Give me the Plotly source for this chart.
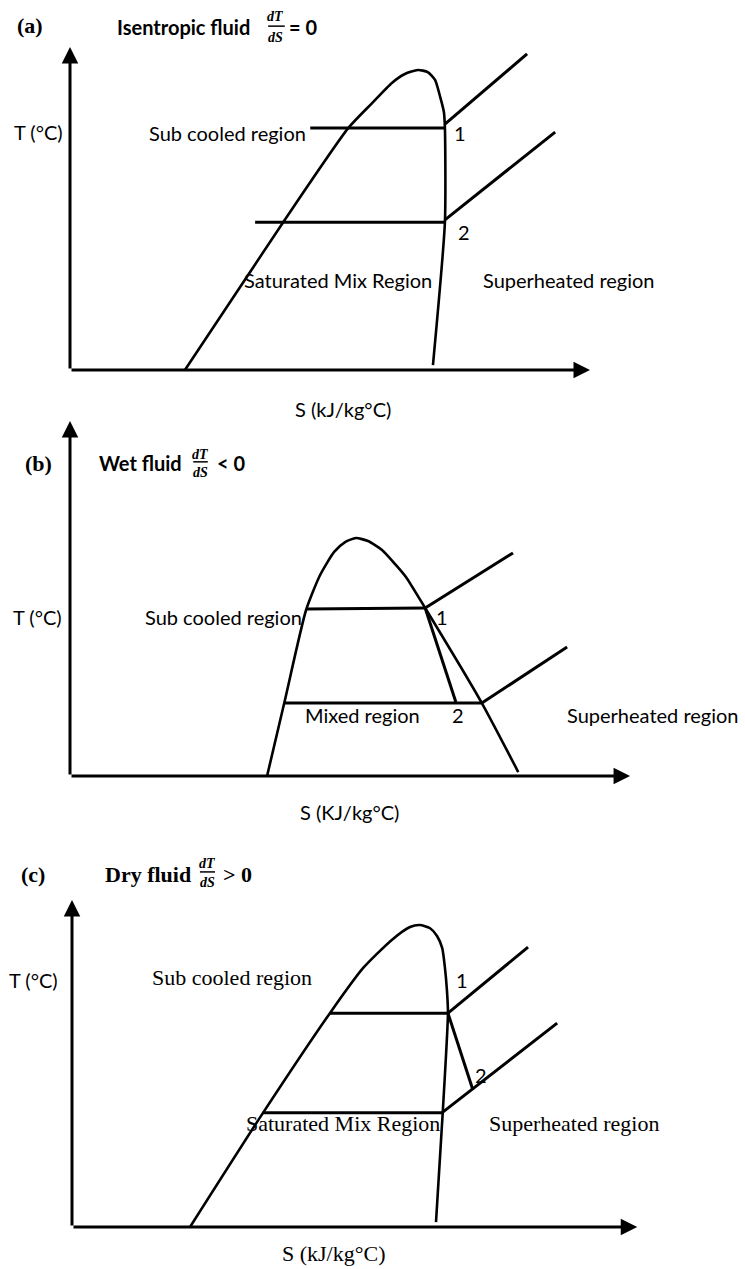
import plotly.graph_objects as go

# ---------------- data (schematic units: S along x, T along y) ----------------
# Panel (a): isentropic fluid
a_dome_s = [22.1, 41.0, 53.5, 58.1, 61.9, 64.4, 66.9, 68.8, 70.2, 71.2, 71.9, 72.1, 72.1, 69.8]
a_dome_t = [0.0, 44.8, 73.3, 80.9, 87.0, 89.7, 90.9, 90.3, 87.9, 82.7, 78.2, 73.3, 44.8, 1.5]
a_sat1_s, a_sat1_t = [46.2, 72.1], [73.3, 73.3]
a_sat2_s, a_sat2_t = [35.6, 72.1], [44.8, 44.8]
a_sh1_s, a_sh1_t = [72.1, 87.9], [74.5, 95.8]
a_sh2_s, a_sh2_t = [72.1, 93.3], [45.5, 72.1]
a_axis_tip = (100.0, 97.9)

# Panel (b): wet fluid
b_dome_s = [37.9, 41.2, 45.4, 48.1, 50.8, 52.9, 55.0, 57.3, 60.0, 62.7, 64.6, 68.3, 79.2, 86.2]
b_dome_t = [0.0, 22.1, 50.3, 60.9, 67.9, 70.9, 72.1, 71.2, 68.5, 63.9, 60.3, 50.9, 22.1, 1.2]
b_sat1_s, b_sat1_t = [45.4, 68.3], [50.6, 50.9]
b_sat2_s, b_sat2_t = [41.2, 79.2], [22.1, 22.1]
b_exp_s, b_exp_t = [68.3, 74.2], [50.9, 22.4]
b_sh1_s, b_sh1_t = [68.3, 85.2], [50.9, 67.6]
b_sh2_s, b_sh2_t = [79.2, 95.6], [22.1, 39.1]
b_axis_tip = (107.7, 107.6)

# Panel (c): dry fluid
c_dome_s = [22.7, 36.7, 49.6, 56.0, 61.5, 65.0, 66.9, 68.8, 70.2, 71.2, 71.7, 72.1, 72.3, 71.3, 70.0]
c_dome_t = [0.0, 34.5, 64.8, 78.5, 87.0, 90.9, 91.5, 90.6, 88.2, 84.5, 78.8, 71.8, 64.8, 34.8, 1.5]
c_sat1_s, c_sat1_t = [49.6, 72.3], [64.8, 64.8]
c_sat2_s, c_sat2_t = [36.7, 71.3], [34.6, 34.6]
c_exp_s, c_exp_t = [72.3, 77.1], [64.8, 41.5]
c_sh1_s, c_sh1_t = [72.3, 87.7], [64.8, 84.8]
c_sh2_s, c_sh2_t = [71.3, 93.3], [34.8, 61.8]
c_axis_tip = (108.7, 99.1)

# ---------------- layout geometry ----------------
W, H = 745, 1269
SX, SY = 5.2, 3.3
ORIGIN = [(70, 370), (70, 776), (72, 1227)]
BANDS = [(0, 415), (415, 840), (840, 1269)]

SANS = "Lato"
SERIF = "Liberation Serif"

fig = go.Figure()

panels = [
    dict(dome=(a_dome_s, a_dome_t),
         lines=[(a_sat1_s, a_sat1_t), (a_sat2_s, a_sat2_t), (a_sh1_s, a_sh1_t), (a_sh2_s, a_sh2_t)],
         tip=a_axis_tip),
    dict(dome=(b_dome_s, b_dome_t),
         lines=[(b_sat1_s, b_sat1_t), (b_sat2_s, b_sat2_t), (b_exp_s, b_exp_t),
                (b_sh1_s, b_sh1_t), (b_sh2_s, b_sh2_t)],
         tip=b_axis_tip),
    dict(dome=(c_dome_s, c_dome_t),
         lines=[(c_sat1_s, c_sat1_t), (c_sat2_s, c_sat2_t), (c_exp_s, c_exp_t),
                (c_sh1_s, c_sh1_t), (c_sh2_s, c_sh2_t)],
         tip=c_axis_tip),
]

annotations = []
shapes = []

for i, p in enumerate(panels):
    n = "" if i == 0 else str(i + 1)
    xa, ya = "x" + n, "y" + n
    ox, oy = ORIGIN[i]
    top, bot = BANDS[i]
    fig.update_layout(**{
        "xaxis" + n: dict(domain=[0, 1], range=[(0 - ox) / SX, (W - ox) / SX], visible=False,
                          anchor=ya, fixedrange=True),
        "yaxis" + n: dict(domain=[1 - bot / H, 1 - top / H], range=[(oy - bot) / SY, (oy - top) / SY],
                          visible=False, anchor=xa, fixedrange=True),
    })
    ds, dt = p["dome"]
    fig.add_trace(go.Scatter(x=ds, y=dt, mode="lines", xaxis=xa, yaxis=ya,
                             line=dict(color="black", width=2.6, shape="spline", smoothing=0.6),
                             showlegend=False, hoverinfo="skip"))
    for ls, lt in p["lines"]:
        fig.add_trace(go.Scatter(x=ls, y=lt, mode="lines", xaxis=xa, yaxis=ya,
                                 line=dict(color="black", width=3),
                                 showlegend=False, hoverinfo="skip"))
    sx_tip, ty_tip = p["tip"]
    for hx, hy in [(0, ty_tip), (sx_tip, 0)]:
        annotations.append(dict(x=hx, y=hy, ax=0, ay=0, xref=xa, yref=ya, axref=xa, ayref=ya,
                                text="", showarrow=True, arrowhead=2, arrowsize=1.1,
                                arrowwidth=3, arrowcolor="black"))

def label(panel, text, s, t, family, size, xanchor="center"):
    n = "" if panel == 0 else str(panel + 1)
    annotations.append(dict(x=s, y=t, xref="x" + n, yref="y" + n, text=text, showarrow=False,
                            xanchor=xanchor, yanchor="middle",
                            font=dict(family=family, size=size, color="black")))

def fraction(panel, s, t_num, t_bar, t_den, s0, s1, family):
    n = "" if panel == 0 else str(panel + 1)
    label(panel, "<b><i>dT</i></b>", s, t_num, family, 14)
    label(panel, "<b><i>dS</i></b>", s, t_den, family, 14)
    shapes.append(dict(type="line", xref="x" + n, yref="y" + n, x0=s0, x1=s1, y0=t_bar, y1=t_bar,
                       line=dict(color="black", width=1.5)))

# Panel (a) texts
label(0, "<b>(a)</b>", -7.7, 104.5, SERIF, 22)
label(0, "<b>Isentropic fluid</b>", 8.7, 103.9, SANS, 20, "left")
fraction(0, 39.6, 107.0, 104.2, 100.9, 38.1, 41.3, SERIF)
label(0, "<b>= 0</b>", 41.7, 103.9, SANS, 20, "left")
label(0, "T (°C)", -6.0, 72.1, SANS, 20)
label(0, "Sub cooled region", 45.8, 71.8, SANS, 20, "right")
label(0, "1", 75.0, 71.8, SANS, 20)
label(0, "2", 75.8, 41.8, SANS, 20)
label(0, "Saturated Mix Region", 51.5, 27.3, SANS, 20)
label(0, "Superheated region", 96.0, 27.3, SANS, 20)
label(0, "S (kJ/kg°C)", 52.5, -11.8, SANS, 20)

# Panel (b) texts
label(1, "<b>(b)</b>", -6.0, 94.8, SERIF, 22)
label(1, "<b>Wet fluid</b>", 5.2, 94.8, SANS, 20, "left")
fraction(1, 25.0, 97.3, 95.2, 92.1, 23.7, 26.5, SERIF)
label(1, "<b>&lt; 0</b>", 27.8, 94.8, SANS, 20, "left")
label(1, "T (°C)", -6.3, 48.2, SANS, 20)
label(1, "Sub cooled region", 29.6, 48.2, SANS, 20)
label(1, "1", 71.5, 48.2, SANS, 20)
label(1, "Mixed region", 56.3, 18.5, SANS, 20)
label(1, "2", 74.6, 18.5, SANS, 20)
label(1, "Superheated region", 112.1, 18.5, SANS, 20)
label(1, "S (KJ/kg°C)", 53.7, -10.9, SANS, 20)

# Panel (c) texts
label(2, "<b>(c)</b>", -7.5, 106.7, SERIF, 22)
label(2, "<b>Dry fluid</b>", 6.0, 106.7, SERIF, 22, "left")
fraction(2, 26.0, 110.3, 107.6, 104.5, 24.6, 27.5, SERIF)
label(2, "<b>&gt; 0</b>", 28.6, 106.7, SERIF, 22, "left")
label(2, "T (°C)", -7.5, 74.8, SANS, 20)
label(2, "Sub cooled region", 30.8, 75.5, SERIF, 22)
label(2, "1", 75.0, 74.8, SANS, 20)
label(2, "2", 78.7, 46.1, SANS, 20)
label(2, "Saturated Mix Region", 52.1, 31.5, SERIF, 22)
label(2, "Superheated region", 96.5, 31.5, SERIF, 22)
label(2, "S (kJ/kg°C)", 50.4, -7.9, SERIF, 22)

fig.update_layout(width=W, height=H, margin=dict(l=0, r=0, t=0, b=0),
                  paper_bgcolor="white", plot_bgcolor="white",
                  annotations=annotations, shapes=shapes, showlegend=False)

fig.write_html("out.html", config={"displayModeBar": False},
               post_script="document.body.style.margin='0';document.body.style.overflow='hidden';")
